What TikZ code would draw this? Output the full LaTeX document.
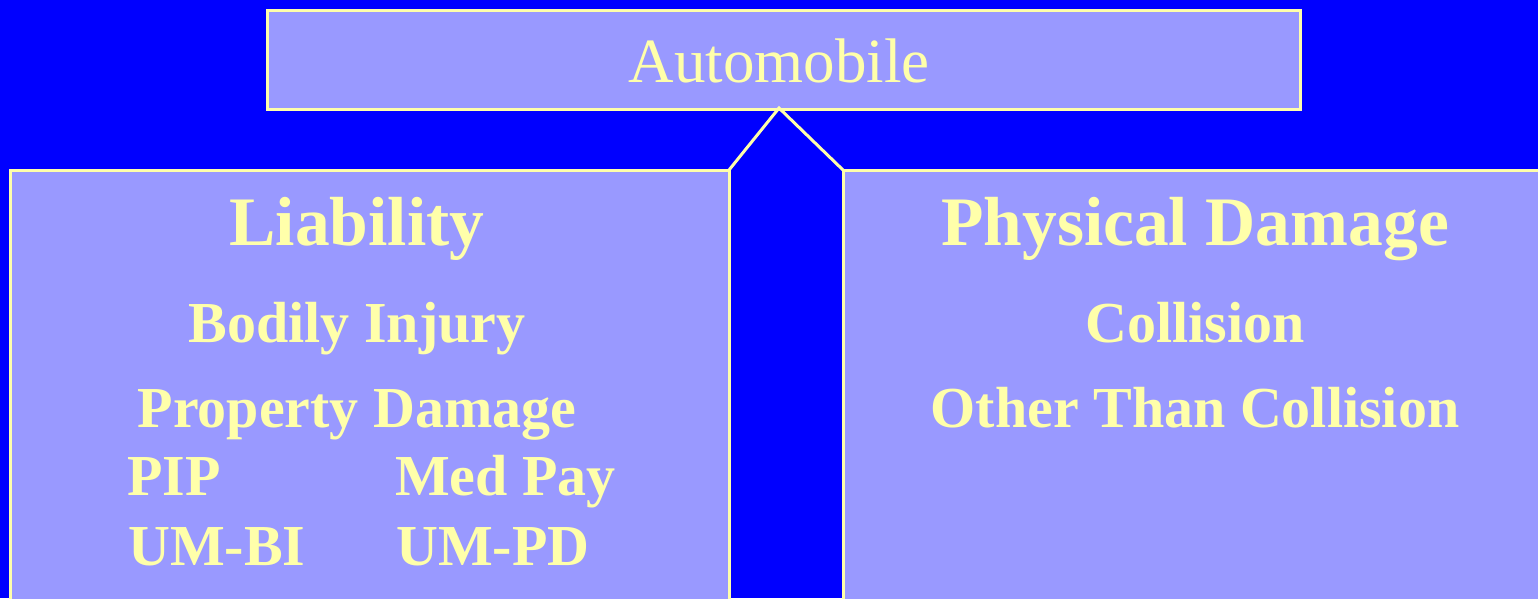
\documentclass[tikz,border=0pt]{standalone}
\usepackage{fontspec}
\setmainfont{Liberation Serif}
\definecolor{bgblue}{RGB}{0,0,255}
\definecolor{boxfill}{RGB}{153,153,255}
\definecolor{cream}{RGB}{255,255,170}
\tikzset{
  panel/.style={draw=cream, line width=3pt, fill=boxfill, rectangle, inner sep=0pt, outer sep=0pt},
  link/.style={draw=cream, line width=3pt},
  ttl/.style={text=cream, inner sep=0pt, anchor=base, font=\bfseries\fontsize{69.5}{71}\selectfont},
  itm/.style={text=cream, inner sep=0pt, anchor=base, font=\bfseries\fontsize{58}{60}\selectfont},
  itmw/.style={itm, anchor=base west}
}
\begin{document}
\begin{tikzpicture}[x=1pt,y=-1pt]
\useasboundingbox (0,0) rectangle (1538,598);
\clip (0,0) rectangle (1538,598);
\fill[bgblue] (0,0) rectangle (1538,598);
\node[panel, minimum width=1033pt, minimum height=99pt] (auto) at (783.5,59.5) {};
\node[panel, minimum width=719pt, minimum height=460pt] (liab) at (369.5,400) {};
\node[panel, minimum width=710pt, minimum height=460pt] (phys) at (1198,400) {};
\coordinate (apex) at (779,108);
\draw[link] (liab.north east) -- (apex) -- (phys.north west);
\node[text=cream, inner sep=0pt, anchor=base, font=\fontsize{63}{65}\selectfont] (tauto) at (779,82) {Automobile};
\node[ttl] (tliab) at (357,245) {Liability};
\node[itm] (bi) at (357,342) {Bodily Injury};
\node[itm] (pd) at (357,427) {Property Damage};
\node[itmw] (pip) at (127,495) {PIP};
\node[itmw] (med) at (395,495) {Med Pay};
\node[itmw] (umbi) at (128,565) {UM-BI};
\node[itmw] (umpd) at (396,565) {UM-PD};
\node[ttl] (tphys) at (1195,245) {Physical Damage};
\node[itm] (coll) at (1195,342) {Collision};
\node[itm] (otc) at (1195,427) {Other Than Collision};
\end{tikzpicture}
\end{document}
